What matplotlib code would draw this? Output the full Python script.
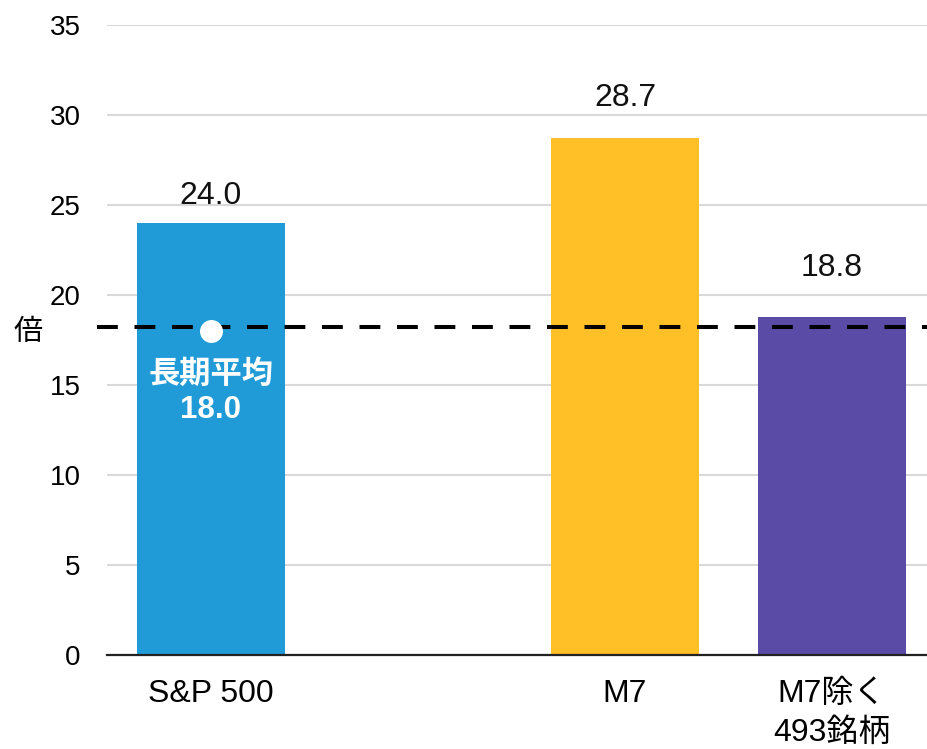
import numpy as np
import matplotlib
matplotlib.use("Agg")
import matplotlib.pyplot as plt

plt.rcParams['font.family'] = ['Liberation Sans', 'Noto Sans CJK JP', 'DejaVu Sans']

# データ（空の枠はS&P 500とM7の間のすき間）
categories = ['S&P 500', '', 'M7', 'M7除く\n493銘柄']
values = [24.0, np.nan, 28.7, 18.8]
bar_colors = ['#209BD7', '#FFFFFF', '#FEBF27', '#5A4BA6']
avg_value = 18.0
avg_line = 18.2
avg_label = '長期平均\n18.0'
y_ticks = [0, 5, 10, 15, 20, 25, 30, 35]

# 値ラベルの上方向のずらし量（ポイント）
label_offsets = [13.5, 0, 23, 29]

fig = plt.figure(figsize=(9.28, 7.49), dpi=100)
ax = fig.add_axes([107 / 928, 94 / 749, 821 / 928, 630 / 749])

x = np.arange(len(categories))
ax.bar(x, values, width=0.715, color=bar_colors, zorder=2)

# 値ラベル
for xi, v, off in zip(x, values, label_offsets):
    if np.isnan(v):
        continue
    ax.annotate('%.1f' % v, (xi, v), xytext=(0, off), textcoords='offset points',
                ha='center', va='baseline', fontsize=23, color='#111111')

# 長期平均の破線
ax.plot([-0.55, 3.47], [avg_line, avg_line], color='black', lw=2.9,
        dashes=(15 / 2.9, 12 / 2.9), zorder=3, clip_on=False)
ax.plot([0], [avg_value], 'o', color='white', markersize=15.5, zorder=4)
ax.text(0, 14.6, avg_label, ha='center', va='center', fontsize=22.5,
        fontweight='bold', color='white', linespacing=1.2, zorder=4)

ax.set_xlim(-0.502, 3.464)
ax.set_ylim(0, 35)
ax.set_yticks(y_ticks)
ax.set_xticks(x)
ax.set_xticklabels(categories, fontsize=23, linespacing=1.4)
ax.tick_params(axis='y', length=0, pad=19, labelsize=20)
ax.tick_params(axis='x', length=0, pad=17)
ax.yaxis.grid(True, color='#D9D9D9', lw=1.5, zorder=0)
ax.set_axisbelow(True)
for s in ['left', 'right', 'top']:
    ax.spines[s].set_visible(False)
ax.spines['bottom'].set_color('#222222')
ax.spines['bottom'].set_linewidth(1.6)
ax.spines['bottom'].set_zorder(5)

fig.text(28 / 928, 1 - 332 / 749, '倍', ha='center', va='center', fontsize=21)

fig.savefig('out.png', dpi=100)
